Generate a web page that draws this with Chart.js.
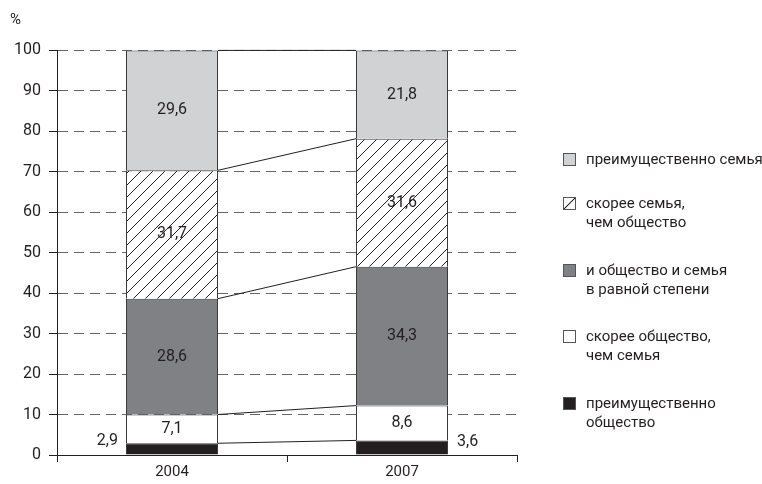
<!DOCTYPE html>
<html>
<head>
<meta charset="utf-8">
<script src="https://cdn.jsdelivr.net/npm/chart.js@4/dist/chart.umd.min.js"></script>
<style>
  body { margin: 0; background: #fff; }
  #wrap { position: relative; width: 762px; height: 484px; }
  #chart { position: absolute; left: 0; top: 0; }
  #legend { position: absolute; left: 563px; top: 150px; margin: 0; padding: 0; list-style: none;
    font-family: 'Roboto', sans-serif; font-size: 15px; color: #231f20; }
  #legend li { position: absolute; left: 0; white-space: nowrap; line-height: 19px; }
  #legend .box { position: absolute; left: 0; top: 3px; width: 13px; height: 13px; box-sizing: border-box; border: 1px solid #555; }
  #legend .txt { position: absolute; left: 23px; top: 0; }
</style>
</head>
<body>
<div id="wrap">
  <canvas id="chart" width="762" height="484"></canvas>
  <ul id="legend"></ul>
</div>
<script>
const years = ['2004', '2007'];
const seriesNames = [
  'преимущественно общество',
  'скорее общество, чем семья',
  'и общество и семья в равной степени',
  'скорее семья, чем общество',
  'преимущественно семья'
];
const mostlySociety = [2.9, 3.6];
const ratherSociety = [7.1, 8.6];
const equally = [28.6, 34.3];
const ratherFamily = [31.7, 31.6];
const mostlyFamily = [29.6, 21.8];
const yTicks = [0, 10, 20, 30, 40, 50, 60, 70, 80, 90, 100];

// legend, top to bottom
const legendItems = [
  { lines: ['преимущественно семья'], fill: '#d1d2d4', top: 0 },
  { lines: ['скорее семья,', 'чем общество'], fill: 'hatch', top: 44 },
  { lines: ['и общество и семья', 'в равной степени'], fill: '#808184', top: 111 },
  { lines: ['скорее общество,', 'чем семья'], fill: '#ffffff', top: 177 },
  { lines: ['преимущественно', 'общество'], fill: '#231f20', top: 244 }
];

const FONT = "'Roboto', sans-serif";
const INK = '#231f20';

function makeHatch() {
  const c = document.createElement('canvas');
  c.width = 12; c.height = 12;
  const g = c.getContext('2d');
  g.fillStyle = '#fff';
  g.fillRect(0, 0, 12, 12);
  g.strokeStyle = '#231f20';
  g.lineWidth = 1;
  g.beginPath();
  g.moveTo(0, 12); g.lineTo(12, 0);
  g.moveTo(-6, 6); g.lineTo(6, -6);
  g.moveTo(6, 18); g.lineTo(18, 6);
  g.stroke();
  return g.createPattern(c, 'repeat');
}

const ctx = document.getElementById('chart').getContext('2d');
const hatch = makeHatch();

const fills = ['#231f20', '#ffffff', '#808184', hatch, '#d1d2d4'];
const values = [mostlySociety, ratherSociety, equally, ratherFamily, mostlyFamily];

const fmt = v => v.toFixed(1).replace('.', ',');

const connectors = {
  id: 'connectors',
  afterDatasetsDraw(chart) {
    const c = chart.ctx;
    c.save();
    c.strokeStyle = INK;
    c.lineWidth = 1;
    chart.data.datasets.forEach((ds, i) => {
      const bars = chart.getDatasetMeta(i).data;
      const a = bars[0], b = bars[1];
      c.beginPath();
      c.moveTo(a.x + a.width / 2, a.y);
      c.lineTo(b.x - b.width / 2, b.y);
      c.stroke();
    });
    c.restore();
  }
};

const valueLabels = {
  id: 'valueLabels',
  afterDatasetsDraw(chart) {
    const c = chart.ctx;
    c.save();
    c.font = '16px ' + FONT;
    c.fillStyle = INK;
    c.textBaseline = 'middle';
    chart.data.datasets.forEach((ds, i) => {
      chart.getDatasetMeta(i).data.forEach((bar, j) => {
        const txt = fmt(ds.data[j]);
        const cy = (bar.y + bar.base) / 2;
        if (i === 0) {
          if (j === 0) {
            c.textAlign = 'right';
            c.fillText(txt, bar.x - bar.width / 2 - 8, cy - 8);
          } else {
            c.textAlign = 'left';
            c.fillText(txt, bar.x + bar.width / 2 + 9, cy - 5);
          }
        } else {
          c.textAlign = 'center';
          c.fillText(txt, bar.x, cy);
        }
      });
    });
    // "%" axis unit
    c.font = '15px ' + FONT;
    c.textAlign = 'left';
    c.fillText('%', 10, 20);
    c.restore();
  }
};

new Chart(ctx, {
  type: 'bar',
  data: {
    labels: years,
    datasets: values.map((v, i) => ({
      label: seriesNames[i],
      data: v,
      backgroundColor: fills[i],
      borderColor: '#3a3a3a',
      borderWidth: 1,
      barPercentage: 0.4,
      categoryPercentage: 1
    }))
  },
  options: {
    responsive: false,
    animation: false,
    layout: { padding: { top: 50, right: 245, left: 0, bottom: 0 } },
    plugins: { legend: { display: false }, tooltip: { enabled: false } },
    scales: {
      x: {
        stacked: true,
        offset: true,
        border: { color: INK, width: 1 },
        grid: { offset: true, drawOnChartArea: false, tickLength: 7, color: INK },
        ticks: { color: INK, font: { family: FONT, size: 15 }, padding: 1 },
        afterFit(s) { s.height = 29; }
      },
      y: {
        stacked: true,
        min: 0,
        max: 100,
        afterBuildTicks(s) { s.ticks = yTicks.map(v => ({ value: v })); },
        border: { color: INK, width: 1, dash: [10, 6] },
        grid: { color: '#666', tickLength: 8, tickBorderDash: [], tickColor: INK },
        ticks: { color: INK, font: { family: FONT, size: 16 }, padding: 8 },
        afterFit(s) { s.width = 57; }
      }
    }
  },
  plugins: [connectors, valueLabels]
});

// custom legend
const legendEl = document.getElementById('legend');
legendEl.innerHTML = legendItems.map(it => {
  const bg = it.fill === 'hatch'
    ? 'background: linear-gradient(to bottom right, #fff 45%, #231f20 47%, #231f20 53%, #fff 55%);'
    : `background:${it.fill};`;
  return `<li style="top:${it.top}px">
      <span class="box" style="${bg}"></span>
      <span class="txt">${it.lines.join('<br>')}</span>
    </li>`;
}).join('');
</script>
</body>
</html>
